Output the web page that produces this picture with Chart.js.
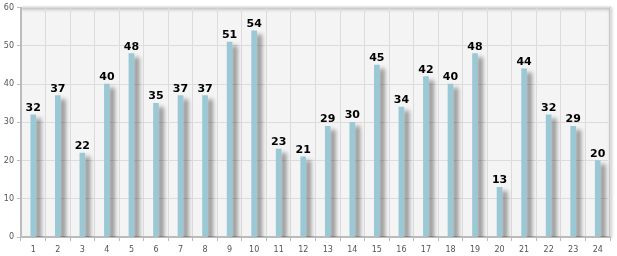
<!DOCTYPE html>
<html><head><meta charset="utf-8">
<script src="https://cdn.jsdelivr.net/npm/chart.js@4/dist/chart.umd.min.js"></script>
<style>html,body{margin:0;padding:0;background:#fff;}#wrap{width:617px;height:256px;}</style>
</head><body><div id="wrap"><canvas id="c" width="617" height="256"></canvas></div>
<script>
const categories = ["1","2","3","4","5","6","7","8","9","10","11","12","13","14","15","16","17","18","19","20","21","22","23","24"];
const values = [32,37,22,40,48,35,37,37,51,54,23,21,29,30,45,34,42,40,48,13,44,32,29,20];
const yTicks = [0,10,20,30,40,50,60];

const framePlugin = {
  id: 'frame',
  beforeDraw(chart) {
    const {ctx, chartArea: a} = chart;
    ctx.save();
    ctx.fillStyle = '#f4f4f4';
    ctx.fillRect(a.left, a.top, a.right - a.left, a.bottom - a.top);
    ctx.shadowColor = 'rgba(0,0,0,0.25)';
    ctx.shadowBlur = 3;
    ctx.shadowOffsetX = 1;
    ctx.shadowOffsetY = 1;
    ctx.strokeStyle = '#c8c8c8';
    ctx.lineWidth = 2;
    ctx.beginPath();
    ctx.moveTo(a.left, a.top);
    ctx.lineTo(a.right, a.top);
    ctx.lineTo(a.right, a.bottom);
    ctx.stroke();
    ctx.restore();
  },
  beforeDatasetsDraw(chart) {
    const ctx = chart.ctx;
    ctx.save();
    ctx.shadowColor = 'rgba(0,0,0,0.4)';
    ctx.shadowBlur = 4;
    ctx.shadowOffsetX = 5;
    ctx.shadowOffsetY = 4;
  },
  afterDatasetsDraw(chart) {
    const ctx = chart.ctx;
    ctx.restore();
    ctx.save();
    ctx.font = 'bold 11px "DejaVu Sans", sans-serif';
    ctx.fillStyle = '#000';
    ctx.textAlign = 'center';
    ctx.textBaseline = 'alphabetic';
    const meta = chart.getDatasetMeta(0);
    meta.data.forEach((el, i) => {
      ctx.fillText(String(values[i]), el.x, el.y - 4);
    });
    ctx.restore();
  }
};

new Chart(document.getElementById('c'), {
  type: 'bar',
  data: {
    labels: categories,
    datasets: [{
      data: values,
      backgroundColor: '#9ac8d4',
      borderWidth: 0,
      barThickness: 5
    }]
  },
  options: {
    responsive: false,
    animation: false,
    devicePixelRatio: 1,
    layout: { padding: { top: 4, right: 7, left: 0, bottom: 0 } },
    plugins: { legend: { display: false }, tooltip: { enabled: false } },
    scales: {
      x: {
        offset: true,
        grid: { offset: true, color: '#dcdcdc', tickColor: '#bbbbbb', tickLength: 4, lineWidth: 1 },
        border: { color: '#bbbbbb', width: 2 },
        ticks: { color: '#555', font: { size: 8, family: '"DejaVu Sans", sans-serif' }, padding: 4, maxRotation: 0, autoSkip: false },
        afterFit(s) { s.height = 19; }
      },
      y: {
        min: 0, max: 60,
        afterBuildTicks(s) { s.ticks = yTicks.map(v => ({ value: v })); },
        grid: { color: '#dcdcdc', tickColor: '#bbbbbb', tickLength: 4, lineWidth: 1 },
        border: { color: '#bbbbbb', width: 2 },
        ticks: { color: '#555', font: { size: 8, family: '"DejaVu Sans", sans-serif' }, padding: 3 },
        afterFit(s) { s.width = 21; }
      }
    }
  },
  plugins: [framePlugin]
});
</script>
</body></html>
